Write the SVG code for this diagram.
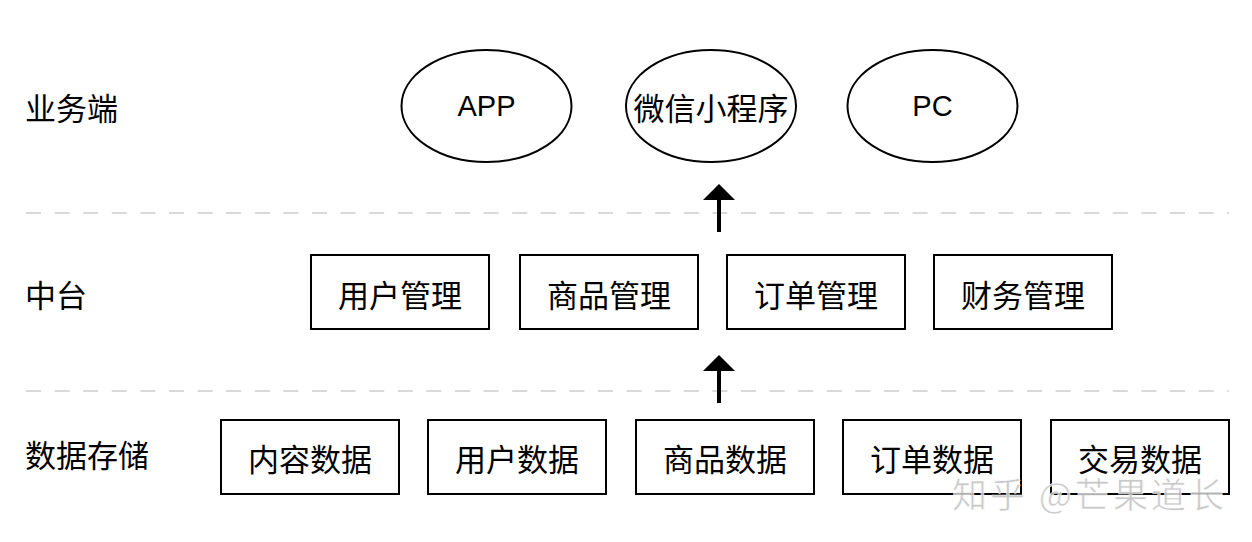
<svg xmlns="http://www.w3.org/2000/svg" width="1252" height="542" viewBox="0 0 1252 542">
<style>
.lbl{font-family:"Noto Sans CJK SC","Liberation Sans",sans-serif;font-size:31px;fill:#000;dominant-baseline:central;text-anchor:middle}
.side{font-family:"Noto Sans CJK SC","Liberation Sans",sans-serif;font-size:31px;fill:#000;dominant-baseline:central}
.latin{font-family:"Liberation Sans","Noto Sans CJK SC",sans-serif;font-size:29px;fill:#000;dominant-baseline:central;text-anchor:middle}
.box{fill:#fff;stroke:#000;stroke-width:2}
.dash{stroke:#d9d9d9;stroke-width:2;stroke-dasharray:15 13.6;fill:none}
.shaft{stroke:#000;stroke-width:4}
.wm{font-family:"Noto Sans CJK SC",sans-serif;font-size:35px;letter-spacing:3px;fill:#c4c4c4;stroke:#fff;stroke-width:0.6;opacity:0.9}
</style>
<rect width="1252" height="542" fill="#fff"/>
<g id="separators">
<line class="dash" x1="26" y1="213" x2="1229" y2="213"/>
<line class="dash" x1="26" y1="391" x2="1229" y2="391"/>
</g>
<g id="layer-labels">
<text class="side" x="25" y="106">业务端</text>
<text class="side" x="25" y="293">中台</text>
<text class="side" x="25" y="453">数据存储</text>
</g>
<g id="node-app"><ellipse class="box" cx="486.5" cy="106" rx="85" ry="56"/><text class="latin" x="486.5" y="106">APP</text></g>
<g id="node-wechat"><ellipse class="box" cx="711" cy="106" rx="85" ry="56"/><text class="lbl" x="711" y="106">微信小程序</text></g>
<g id="node-pc"><ellipse class="box" cx="932.5" cy="106" rx="85" ry="56"/><text class="latin" x="932.5" y="106">PC</text></g>
<g id="node-user-mgmt"><rect class="box" x="311" y="255" width="178" height="74"/><text class="lbl" x="400" y="293">用户管理</text></g>
<g id="node-goods-mgmt"><rect class="box" x="520" y="255" width="178" height="74"/><text class="lbl" x="609" y="293">商品管理</text></g>
<g id="node-order-mgmt"><rect class="box" x="727" y="255" width="178" height="74"/><text class="lbl" x="816" y="293">订单管理</text></g>
<g id="node-finance-mgmt"><rect class="box" x="934" y="255" width="178" height="74"/><text class="lbl" x="1023" y="293">财务管理</text></g>
<g id="node-content-data"><rect class="box" x="221" y="420" width="178" height="74"/><text class="lbl" x="310" y="457">内容数据</text></g>
<g id="node-user-data"><rect class="box" x="428" y="420" width="178" height="74"/><text class="lbl" x="517" y="457">用户数据</text></g>
<g id="node-goods-data"><rect class="box" x="636" y="420" width="178" height="74"/><text class="lbl" x="725" y="457">商品数据</text></g>
<g id="node-order-data"><rect class="box" x="843" y="420" width="178" height="74"/><text class="lbl" x="932" y="457">订单数据</text></g>
<g id="node-trade-data"><rect class="box" x="1051" y="420" width="178" height="74"/><text class="lbl" x="1140" y="457">交易数据</text></g>
<g id="connectors">
<line class="shaft" x1="719" y1="232" x2="719" y2="197"/>
<polygon points="719,184 735,200 703,200" fill="#000"/>
<line class="shaft" x1="719" y1="403" x2="719" y2="369"/>
<polygon points="719,355 735,371 703,371" fill="#000"/>
</g>
<text class="wm" x="952" y="508">知乎 @芒果道长</text>
</svg>
